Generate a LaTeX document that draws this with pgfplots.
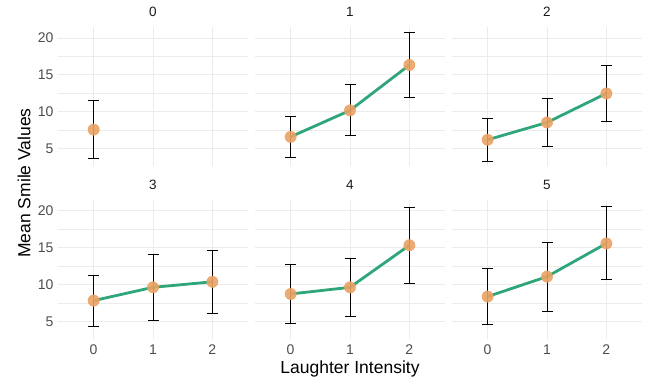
\documentclass[border=0pt]{standalone}
\usepackage{fontspec}
\setmainfont{Liberation Sans}
\usepackage{pgfplots}
\usepackage{pgfplotstable}
\pgfplotsset{compat=1.18}
\definecolor{gridgray}{HTML}{EBEBEB}
\definecolor{lngreen}{HTML}{2FA57A}
\definecolor{ptorange}{HTML}{EAA263}
\definecolor{ticktext}{HTML}{4D4D4D}

\pgfplotstableread{
x y e
0 7.6 3.9
}\panelA
\pgfplotstableread{
x y e
0 6.62 2.78
1 10.2 3.45
2 16.35 4.43
}\panelB
\pgfplotstableread{
x y e
0 6.22 2.93
1 8.56 3.28
2 12.5 3.82
}\panelC
\pgfplotstableread{
x y e
0 7.8 3.47
1 9.6 4.44
2 10.35 4.29
}\panelD
\pgfplotstableread{
x y e
0 8.7 4.05
1 9.6 3.9
2 15.3 5.17
}\panelE
\pgfplotstableread{
x y e
0 8.35 3.85
1 11.05 4.68
2 15.55 4.95
}\panelF

\pgfplotsset{
  panel/.style={
    scale only axis, width=190pt, height=139.5pt,
    anchor=north west,
    xmin=-0.6, xmax=2.6, ymin=2.6, ymax=21.5,
    axis line style={draw=none}, tick style={draw=none},
    xtick={0,1,2}, ytick={5,10,15,20},
    minor ytick={2.5,7.5,12.5,17.5},
    grid=both,
    major grid style={color=gridgray, line width=1pt},
    minor grid style={color=gridgray, line width=0.5pt},
    /pgf/number format/assume math mode=true,
    tick label style={font=\fontsize{14}{16}\selectfont, text=ticktext},
    xticklabels={}, yticklabels={},
    title style={font=\fontsize{13.5}{15}\selectfont, text=black!90, at={(0.5,1)}, anchor=south, yshift=2pt, inner sep=2pt},
    clip=false,
  },
  leftcol/.style={yticklabels={5,10,15,20}, yticklabel style={xshift=-1pt}},
  bottomrow/.style={xticklabels={0,1,2}, xticklabel style={yshift=-2pt}},
}

\newcommand{\drawpanel}[1]{%
  \addplot[lngreen, line width=2.8pt, mark=none] table[x=x,y=y] {#1};
  \addplot[draw=none, mark=none, forget plot,
    error bars/.cd, y dir=both, y explicit,
    error bar style={black, line width=1pt},
    error mark options={rotate=90, mark size=5.5pt, black, line width=1pt}]
    table[x=x,y=y,y error=e] {#1};
  \addplot[only marks, mark=*, color=ptorange, mark size=5.7pt, opacity=0.9] table[x=x,y=y] {#1};
}

\begin{document}
\begin{tikzpicture}
\useasboundingbox (0pt,0pt) rectangle (649pt,-383pt);

\begin{axis}[panel, leftcol, at={(58pt,-27pt)}, title={0}]
\drawpanel{\panelA}
\end{axis}
\begin{axis}[panel, at={(255pt,-27pt)}, title={1}]
\drawpanel{\panelB}
\end{axis}
\begin{axis}[panel, at={(452pt,-27pt)}, title={2}]
\drawpanel{\panelC}
\end{axis}

\begin{axis}[panel, leftcol, bottomrow, at={(58pt,-199.5pt)}, title={3}]
\drawpanel{\panelD}
\end{axis}
\begin{axis}[panel, bottomrow, at={(255pt,-199.5pt)}, title={4}]
\drawpanel{\panelE}
\end{axis}
\begin{axis}[panel, bottomrow, at={(452pt,-199.5pt)}, title={5}]
\drawpanel{\panelF}
\end{axis}

\node[font=\fontsize{17.5}{20}\selectfont, rotate=90] at (24pt,-183pt) {Mean Smile Values};
\node[font=\fontsize{17.5}{20}\selectfont] at (350pt,-369pt) {Laughter Intensity};
\end{tikzpicture}
\end{document}
